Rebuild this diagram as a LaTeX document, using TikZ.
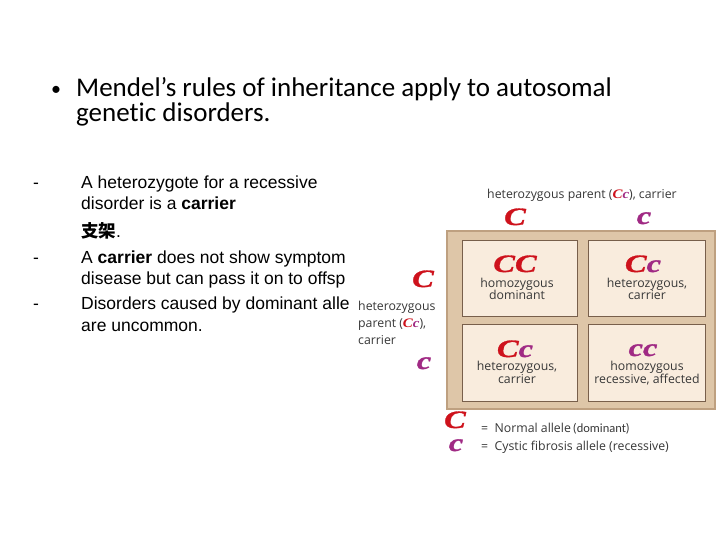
\documentclass[tikz,border=0pt]{standalone}
\usepackage{fontspec}
\setmainfont{Carlito}[Ligatures=NoCommon]
\newfontfamily\arialf{Liberation Sans}
\newfontfamily\bigf{Liberation Serif}[UprightFont={* Bold Italic}, FakeStretch=1.3, FakeBold=1.2]
\newfontfamily\smallbi{Liberation Serif}[UprightFont={* Bold Italic}, FakeStretch=1.15]
\newfontfamily\labf{Open Sans}
\newfontfamily\cjk{Noto Sans CJK SC}
\definecolor{bigred}{RGB}{206,18,28}
\definecolor{bigpur}{RGB}{160,42,132}
\definecolor{frameFill}{RGB}{222,198,168}
\definecolor{frameLine}{RGB}{190,160,128}
\definecolor{cellFill}{RGB}{249,236,221}
\definecolor{cellLine}{RGB}{120,95,75}
\definecolor{labgray}{RGB}{55,55,55}
\newcommand{\R}[1]{\textcolor{bigred}{#1}}
\newcommand{\Pp}[1]{\textcolor{bigpur}{#1}}
\newcommand{\Ccs}{{\smallbi\fontsize{13}{13}\selectfont\R{C}\Pp{c}}}
\begin{document}
\begin{tikzpicture}[x=1pt,y=-1pt,
  title/.style={anchor=base west, inner sep=0pt, font=\fontsize{27}{32}\selectfont},
  body/.style={anchor=base west, inner sep=0pt, font=\arialf\fontsize{17.5}{21}\selectfont},
  lab/.style={inner sep=0pt, font=\labf\fontsize{12.3}{12.5}\selectfont, text=labgray, align=center},
  big/.style={inner sep=0pt, anchor=base, text depth=0pt, font=\bigf\fontsize{25}{25}\selectfont},
  cellbox/.style={draw=cellLine, line width=0.8pt, fill=cellFill}
]
\useasboundingbox (0,0) rectangle (720,540);
\fill[white] (0,0) rectangle (720,540);
% title
\node[anchor=base west, inner sep=0pt, font=\fontsize{20}{20}\selectfont] (bul) at (51,96) {\textbullet};
\node[title] (t1) at (76,97) {Mendel’s rules of inheritance apply to autosomal};
\node[title] (t2) at (76,122) {genetic disorders.};
% body
\node[body] (d1) at (33,189) {-};
\node[body] (d2) at (33,263) {-};
\node[body] (d3) at (33,309) {-};
\node[body] (b1) at (81,189) {A heterozygote for a recessive};
\node[body] (b2) at (81,210) {disorder is a \textbf{carrier}};
\node[body] (b3) at (81,237) {{\cjk\bfseries 支架}.};
\node[body] (b4) at (81,263) {A \textbf{carrier} does not show symptom};
\node[body] (b5) at (81,284) {disease but can pass it on to offsp};
\node[body] (b6) at (81,309) {Disorders caused by dominant alle};
\node[body] (b7) at (81,331) {are uncommon.};
% punnett square
\fill[white] (356,296) rectangle (446,350);
\node[cellbox, draw=frameLine, fill=frameFill, line width=1.2pt, minimum width=268pt, minimum height=178pt, inner sep=0pt] (frame) at (581,320) {};
\node[cellbox, minimum width=115pt, minimum height=76pt] (c11) at (519.5,278) {};
\node[cellbox, minimum width=117pt, minimum height=76pt] (c12) at (646.5,278) {};
\node[cellbox, minimum width=115pt, minimum height=77pt] (c21) at (519.5,362.5) {};
\node[cellbox, minimum width=117pt, minimum height=77pt] (c22) at (646.5,362.5) {};
\node[big] (g11) at (515,272) {\R{CC}};
\node[big] (g12) at (643,272) {\R{C}\Pp{c}};
\node[big] (g21) at (515,357) {\R{C}\Pp{c}};
\node[big] (g22) at (643,356) {\Pp{cc}};
\node[lab, anchor=base] (l11) at (517,287) {homozygous};
\node[lab, anchor=base] (l11b) at (517,299) {dominant};
\node[lab, anchor=base] (l12) at (647,287) {heterozygous,};
\node[lab, anchor=base] (l12b) at (647,299) {carrier};
\node[lab, anchor=base] (l21) at (517,370) {heterozygous,};
\node[lab, anchor=base] (l21b) at (517,383) {carrier};
\node[lab, anchor=base] (l22) at (647,370) {homozygous};
\node[lab, anchor=base] (l22b) at (647,383) {recessive, affected};
% parents
\node[lab, anchor=base] (ptop) at (582,199) {heterozygous parent (\Ccs), carrier};
\node[big] (pc1) at (515,225) {\R{C}};
\node[big] (pc2) at (644,224) {\Pp{c}};
\node[lab, anchor=base west] (pleft1) at (358,310) {heterozygous};
\node[lab, anchor=base west] (pleft2) at (358,327) {parent (\Ccs),};
\node[lab, anchor=base west] (pleft3) at (358,344) {carrier};
\node[big] (pl1) at (423,287) {\R{C}};
\node[big] (pl2) at (424,369) {\Pp{c}};
% legend
\node[big] (k1) at (455,428) {\R{C}};
\node[lab, anchor=base west] (k1t) at (481,432) {=\ \ Normal allele\,{\fontsize{12.5}{13}\selectfont\rmfamily(dominant)}};
\node[big] (k2) at (456,451) {\Pp{c}};
\node[lab, anchor=base west] (k2t) at (481,450) {=\ \ Cystic fibrosis allele (recessive)};
\end{tikzpicture}
\end{document}
